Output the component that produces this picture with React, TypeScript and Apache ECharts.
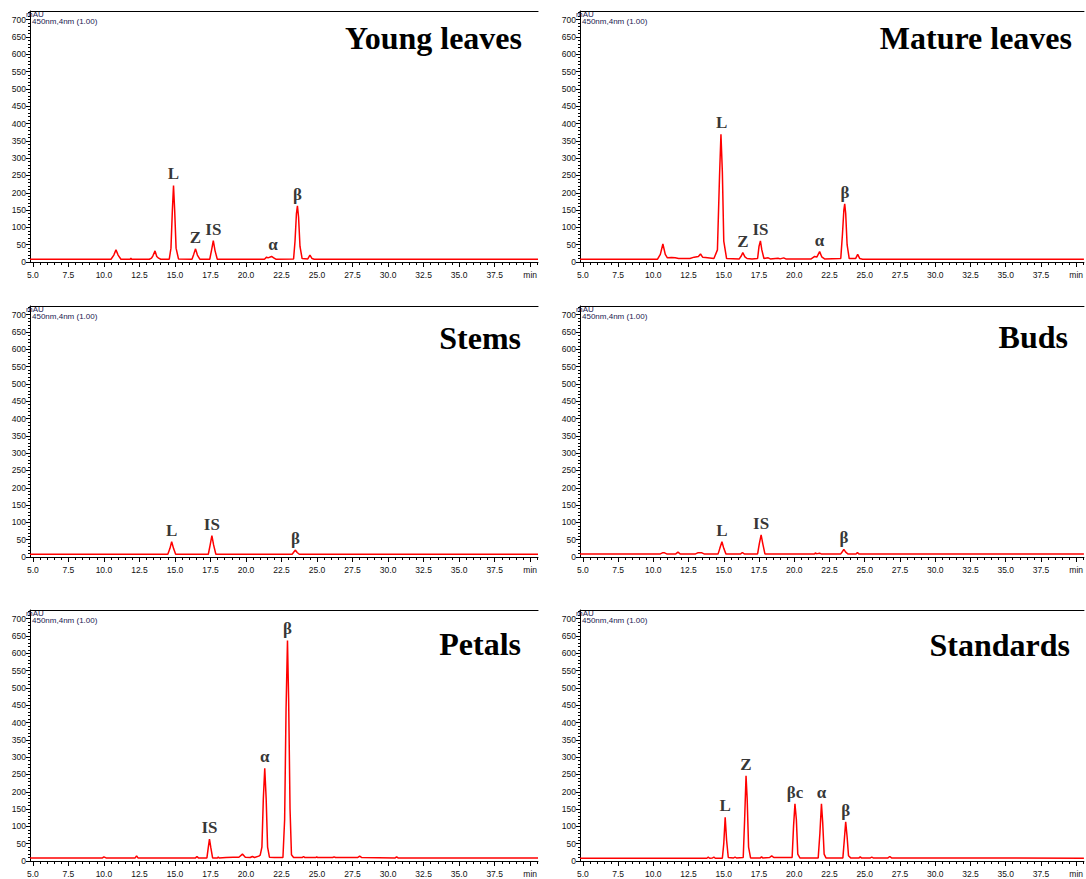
import React, { useEffect, useRef } from "react";
import * as echarts from "echarts";

// ---------- data (retention time in min, absorbance in mAU) ----------
const X_TICKS = [5, 7.5, 10, 12.5, 15, 17.5, 20, 22.5, 25, 27.5, 30, 32.5, 35, 37.5, 40];
const X_TICK_LABELS = ["5.0", "7.5", "10.0", "12.5", "15.0", "17.5", "20.0", "22.5", "25.0", "27.5", "30.0", "32.5", "35.0", "37.5", "min"];
const Y_TICKS = [0, 50, 100, 150, 200, 250, 300, 350, 400, 450, 500, 550, 600, 650, 700];

const YOUNG_LEAVES = [
  [4.8, 8], [10.5, 8], [10.7, 20], [10.85, 35], [11.0, 20], [11.2, 8], [11.85, 8], [11.9, 11], [11.95, 8],
  [13.2, 8], [13.35, 11], [13.45, 18], [13.6, 32], [13.72, 16], [13.85, 11], [14.0, 8],
  [14.6, 8], [14.72, 40], [14.82, 150], [14.9, 221], [14.98, 150], [15.08, 40], [15.25, 9],
  [16.2, 8], [16.32, 22], [16.45, 38], [16.58, 20], [16.75, 8],
  [17.45, 8], [17.58, 35], [17.7, 62], [17.82, 33], [17.98, 8],
  [21.3, 8], [21.45, 14], [21.55, 12], [21.8, 16], [21.95, 12], [22.1, 8],
  [23.35, 9], [23.45, 60], [23.55, 140], [23.62, 162], [23.7, 130], [23.8, 45], [23.95, 10],
  [24.35, 9], [24.5, 20], [24.65, 10], [24.8, 8], [40.55, 8],
];
const MATURE_LEAVES = [
  [4.8, 8], [10.3, 8], [10.5, 22], [10.68, 52], [10.85, 22], [11.0, 12], [11.3, 13], [11.55, 12], [11.8, 10],
  [12.6, 10], [12.9, 14], [13.2, 16], [13.35, 23], [13.5, 14], [13.7, 13], [14.3, 10],
  [14.55, 35], [14.7, 250], [14.8, 369], [14.9, 260], [15.0, 60], [15.2, 10],
  [16.1, 9], [16.25, 18], [16.35, 27], [16.5, 15], [16.65, 10], [17.0, 9],
  [17.4, 10], [17.5, 45], [17.6, 61], [17.7, 35], [17.85, 10], [18.15, 12], [18.3, 9],
  [18.85, 11], [19.0, 9], [19.25, 12], [19.4, 9],
  [21.2, 9], [21.45, 16], [21.6, 14], [21.8, 30], [21.95, 15], [22.15, 9],
  [23.3, 10], [23.42, 80], [23.52, 150], [23.58, 168], [23.65, 140], [23.75, 50], [23.9, 10],
  [24.35, 10], [24.5, 22], [24.65, 10], [24.85, 8], [40.55, 8],
];
const STEMS = [
  [4.8, 8], [14.5, 8], [14.65, 25], [14.77, 44], [14.9, 25], [15.05, 8],
  [17.35, 8], [17.48, 35], [17.6, 62], [17.72, 35], [17.88, 8],
  [23.25, 8], [23.38, 15], [23.48, 20], [23.6, 13], [23.75, 8], [40.55, 8],
];
const BUDS = [
  [4.8, 9], [10.5, 9], [10.65, 12], [10.8, 12], [10.95, 9], [11.6, 9], [11.75, 14], [11.9, 9],
  [13.0, 9], [13.15, 12], [13.45, 12], [13.6, 9],
  [14.6, 9], [14.72, 25], [14.87, 44], [15.0, 25], [15.15, 9], [16.2, 9], [16.32, 13], [16.45, 9],
  [17.4, 9], [17.52, 38], [17.65, 64], [17.77, 38], [17.92, 9],
  [21.45, 9], [21.5, 12], [21.58, 9], [21.8, 11], [21.9, 9],
  [23.3, 9], [23.42, 16], [23.52, 22], [23.65, 14], [23.8, 9], [24.4, 9], [24.48, 13], [24.58, 9], [40.55, 9],
];
const PETALS = [
  [4.8, 9], [9.9, 9], [10.0, 12], [10.15, 9], [12.2, 9], [12.3, 15], [12.4, 9],
  [16.45, 9], [16.55, 13], [16.65, 9], [17.25, 9], [17.35, 40], [17.43, 63], [17.52, 40], [17.65, 9],
  [18.0, 9], [18.05, 12], [18.1, 9], [18.6, 10], [19.1, 11], [19.5, 11], [19.75, 20], [19.95, 11],
  [20.3, 10], [20.45, 13], [20.6, 10], [20.9, 14], [21.0, 17],
  [21.12, 40], [21.22, 180], [21.32, 268], [21.42, 180], [21.52, 40], [21.65, 11],
  [22.0, 10], [22.3, 10], [22.6, 10], [22.72, 120], [22.82, 440], [22.92, 637], [23.0, 470], [23.1, 150], [23.2, 18], [23.35, 10],
  [23.95, 10], [24.05, 13], [24.15, 10], [24.9, 10], [24.98, 12], [25.05, 10],
  [26.1, 10], [26.2, 12], [26.3, 10], [27.85, 10], [28.0, 14], [28.15, 10],
  [30.5, 9], [30.6, 12], [30.7, 9], [40.55, 9],
];
const STANDARDS = [
  [4.8, 8], [13.8, 8], [13.9, 11], [14.0, 8], [14.2, 9], [14.3, 11], [14.4, 8],
  [14.9, 8], [15.0, 50], [15.1, 126], [15.2, 60], [15.32, 10], [15.7, 9], [15.8, 11], [15.9, 9],
  [16.38, 10], [16.48, 120], [16.58, 246], [16.66, 180], [16.76, 40], [16.9, 9],
  [17.6, 9], [17.68, 12], [17.76, 9], [18.25, 10], [18.4, 15], [18.55, 10],
  [19.85, 10], [19.95, 100], [20.05, 165], [20.15, 120], [20.25, 20], [20.4, 9],
  [21.7, 9], [21.82, 80], [21.93, 165], [22.02, 110], [22.12, 20], [22.25, 9],
  [23.45, 9], [23.55, 60], [23.65, 113], [23.75, 70], [23.85, 15], [24.0, 9],
  [24.6, 9], [24.68, 12], [24.76, 9], [25.4, 9], [25.5, 11], [25.6, 9],
  [26.65, 9], [26.78, 13], [26.9, 9], [40.55, 8],
];

// peak labels: [name, retention time, apex height]
const YOUNG_LABELS = [["L", 14.9, 221], ["Z", 16.45, 38], ["IS", 17.7, 62], ["α", 21.9, 16], ["β", 23.62, 162]];
const MATURE_LABELS = [["L", 14.85, 369], ["Z", 16.35, 27], ["IS", 17.6, 61], ["α", 21.8, 30], ["β", 23.6, 168]];
const STEMS_LABELS = [["L", 14.77, 44], ["IS", 17.6, 62], ["β", 23.48, 20]];
const BUDS_LABELS = [["L", 14.87, 44], ["IS", 17.65, 64], ["β", 23.52, 22]];
const PETALS_LABELS = [["IS", 17.43, 63], ["α", 21.32, 268], ["β", 22.92, 637]];
const STANDARDS_LABELS = [["L", 15.1, 126], ["Z", 16.58, 246], ["βc", 20.05, 165], ["α", 21.93, 165], ["β", 23.65, 113]];

const TITLES = ["Young leaves", "Mature leaves", "Stems", "Buds", "Petals", "Standards"];
const DATASETS = [YOUNG_LEAVES, MATURE_LEAVES, STEMS, BUDS, PETALS, STANDARDS];
const LABELSETS = [YOUNG_LABELS, MATURE_LABELS, STEMS_LABELS, BUDS_LABELS, PETALS_LABELS, STANDARDS_LABELS];

// ---------- layout ----------
const X_MIN = 4.8;
const X_MAX = 40.55;
const Y_MAX = 725;
const COL_LEFT = [30, 580];
const COL_WIDTH = [508, 506];
const ROW_TOP = [11, 306, 610];
const ROW_HEIGHT = 251;
const TITLE_POS = [[522, 38], [1072, 38], [521, 338], [1068, 337], [521, 644], [1070, 645]];

const X_MINOR: number[] = [];
for (let v = 5; v <= 40.5; v += 0.5) if (Math.abs(v / 2.5 - Math.round(v / 2.5)) > 1e-6) X_MINOR.push(v);
const Y_MINOR: number[] = [];
for (let v = 10; v <= 720; v += 10) if (v % 50 !== 0) Y_MINOR.push(v);

const SANS = '"Liberation Sans", Arial, sans-serif';
const SERIF = '"Liberation Serif", "Times New Roman", serif';

function buildOption() {
  const grid: any[] = [];
  const xAxis: any[] = [];
  const yAxis: any[] = [];
  const series: any[] = [];
  const graphic: any[] = [];

  for (let i = 0; i < 6; i++) {
    const col = i % 2;
    const row = Math.floor(i / 2);
    const left = COL_LEFT[col];
    const top = ROW_TOP[row];
    grid.push({ left, top, width: COL_WIDTH[col], height: ROW_HEIGHT, containLabel: false });

    const baseX = {
      gridIndex: i, type: "value", min: X_MIN, max: X_MAX,
      splitLine: { show: false },
    };
    xAxis.push({
      ...baseX, position: "bottom",
      axisLine: { show: true, onZero: false, lineStyle: { color: "#000", width: 1 } },
      axisTick: { show: true, customValues: X_TICKS, length: 5, lineStyle: { color: "#000" } },
      axisLabel: {
        show: true, customValues: X_TICKS, margin: 8, fontSize: 8.5, fontFamily: SANS, color: "#111",
        formatter: (v: number) => {
          const k = X_TICKS.findIndex((t) => Math.abs(t - v) < 1e-6);
          return k >= 0 ? X_TICK_LABELS[k] : "";
        },
      },
    });
    xAxis.push({
      ...baseX, position: "bottom",
      axisLine: { show: false, onZero: false },
      axisTick: { show: true, customValues: X_MINOR, length: 3, lineStyle: { color: "#000" } },
      axisLabel: { show: false },
    });
    xAxis.push({
      ...baseX, position: "top",
      axisLine: { show: true, onZero: false, lineStyle: { color: "#000", width: 1.2 } },
      axisTick: { show: false },
      axisLabel: { show: false },
    });

    const baseY = { gridIndex: i, type: "value", min: 0, max: Y_MAX, splitLine: { show: false } };
    yAxis.push({
      ...baseY, position: "left",
      axisLine: { show: true, onZero: false, lineStyle: { color: "#000", width: 1 } },
      axisTick: { show: true, customValues: Y_TICKS, length: 4, lineStyle: { color: "#000" } },
      axisLabel: { show: true, customValues: Y_TICKS, margin: 4, fontSize: 8.5, fontFamily: SANS, color: "#111" },
    });
    yAxis.push({
      ...baseY, position: "left",
      axisLine: { show: false, onZero: false },
      axisTick: { show: true, customValues: Y_MINOR, length: 2, lineStyle: { color: "#000" } },
      axisLabel: { show: false },
    });

    series.push({
      type: "line",
      xAxisIndex: i * 3,
      yAxisIndex: i * 2,
      data: DATASETS[i],
      showSymbol: false,
      symbol: "none",
      lineStyle: { color: "#ff0000", width: 1.5 },
      silent: true,
      z: 3,
    });
    series.push({
      type: "scatter",
      xAxisIndex: i * 3,
      yAxisIndex: i * 2,
      data: LABELSETS[i].map(([n, t, v]) => ({ name: n, value: [t, v] })),
      symbolSize: 0,
      itemStyle: { color: "rgba(0,0,0,0)" },
      label: {
        show: true, position: "top", distance: 3, formatter: "{b}",
        fontFamily: SERIF, fontWeight: "bold", fontSize: 17, color: "#000",
      },
      silent: true,
      z: 4,
    });

    graphic.push({
      type: "text", x: left - 4, y: top - 1, z: 10,
      style: { text: "mAU", font: `8px ${SANS}`, fill: "#1a2050" },
    });
    graphic.push({
      type: "text", x: left + 2, y: top + 6, z: 10,
      style: { text: "450nm,4nm (1.00)", font: `8px ${SANS}`, fill: "#1a2050" },
    });
    const [tx, ty] = TITLE_POS[i];
    graphic.push({
      type: "text", x: tx, y: ty, z: 10,
      style: {
        text: TITLES[i], font: `bold 32px ${SERIF}`, fill: "#000",
        align: "right", verticalAlign: "middle", textAlign: "right", textVerticalAlign: "middle",
      },
    });
  }

  return {
    animation: false,
    backgroundColor: "#ffffff",
    grid, xAxis, yAxis, series, graphic,
  };
}

export default function App() {
  const ref = useRef<HTMLDivElement>(null);
  useEffect(() => {
    if (!ref.current) return;
    const chart = echarts.init(ref.current, undefined, { renderer: "svg" });
    chart.setOption(buildOption() as any);
    return () => chart.dispose();
  }, []);
  return (
    <div
      ref={ref}
      style={{ position: "fixed", left: 0, top: 0, width: 1086, height: 879, background: "#fff" }}
    />
  );
}
